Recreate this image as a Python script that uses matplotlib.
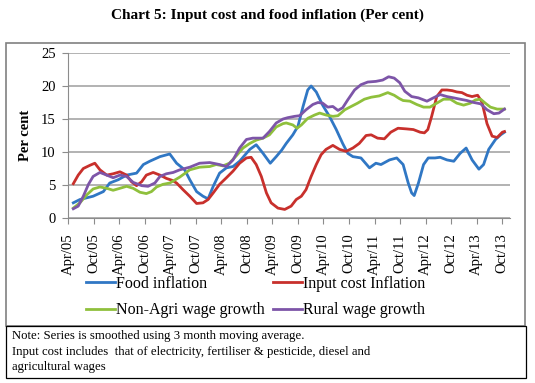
import matplotlib.pyplot as plt
from matplotlib.patches import Rectangle
from matplotlib.ticker import FixedLocator

plt.rcParams['font.family'] = ['Liberation Serif', 'DejaVu Serif']

# data (x = months since Apr/05)
tick_labels = ['Apr/05', 'Oct/05', 'Apr/06', 'Oct/06', 'Apr/07', 'Oct/07', 'Apr/08', 'Oct/08',
               'Apr/09', 'Oct/09', 'Apr/10', 'Oct/10', 'Apr/11', 'Oct/11', 'Apr/12', 'Oct/12',
               'Apr/13', 'Oct/13']

food_m = [1.25, 2.8, 5.9, 8.3, 9.8, 11.8, 13.75, 16.1, 17.7, 19.2, 21.6, 23.9, 25.5, 27.4, 28.6,
          30.2, 31.7, 32.9, 34.1, 35.6, 37.2, 38.75, 40.3, 42.7, 44.2, 45.8, 47.5, 48.9, 50.2,
          51.25, 52.8, 54.0, 55.2, 56.3, 57.1, 58.3, 59.8, 61.4, 63.0, 64.5, 65.7, 66.9, 68.8,
          70.8, 72.3, 73.5, 75.5, 77.2, 78.7, 79.9, 80.7, 81.3, 82.3, 83.5, 84.6, 86.2, 87.4,
          89.0, 90.6, 92.1, 93.5, 94.9, 96.5, 97.6, 98.8, 100.4, 101.6, 102.5]
food = [2.3, 2.8, 3.3, 4.0, 5.3, 5.8, 6.5, 6.8, 8.1, 8.6, 9.3, 9.7, 8.3, 7.3, 5.8,
        4.0, 3.3, 2.9, 4.8, 6.8, 7.6, 7.8, 8.6, 10.4, 11.1, 9.8, 8.3, 9.3, 10.3,
        11.3, 12.6, 13.9, 16.9, 19.4, 20.0, 19.1, 17.1, 15.4, 13.4, 11.3, 9.8, 9.3, 9.1,
        7.6, 8.3, 8.1, 8.8, 9.1, 8.1, 5.3, 3.8, 3.4, 5.3, 8.1, 9.1, 9.1, 9.2,
        8.8, 8.6, 9.8, 10.6, 8.8, 7.4, 8.1, 10.4, 11.9, 12.6, 13.0]

input_m = [1.25, 2.4, 3.6, 5.2, 6.3, 7.5, 9.1, 10.6, 12.2, 13.75, 14.9, 16.1, 17.3, 18.4, 20.0,
           21.6, 23.1, 24.5, 25.5, 27.0, 28.6, 30.2, 31.7, 32.9, 34.1, 35.6, 37.2, 38.75, 40.3,
           41.9, 43.0, 44.2, 45.4, 46.6, 47.7, 49.3, 50.9, 52.4, 53.6, 54.8, 55.9, 57.1, 58.3,
           59.45, 60.6, 62.2, 63.75, 65.3, 66.9, 68.4, 70.0, 71.2, 72.7, 74.3, 75.8, 77.5, 79.5,
           81.1, 82.7, 83.7, 84.5, 85.4, 86.6, 87.8, 89.0, 90.2, 91.3, 92.5, 93.7, 94.9, 96.2,
           97.2, 98.4, 99.6, 100.8, 102.0, 102.5]
input_cost = [5.2, 6.5, 7.5, 8.0, 8.3, 7.3, 6.5, 6.7, 7.0, 6.5, 5.5, 4.9, 5.5, 6.5, 6.9,
              6.5, 6.0, 5.7, 5.3, 4.3, 3.3, 2.2, 2.3, 2.8, 3.8, 5.1, 6.1, 7.1, 8.3,
              9.1, 9.2, 8.1, 6.3, 3.8, 2.3, 1.5, 1.3, 1.8, 2.8, 3.3, 4.3, 6.3, 8.1,
              9.6, 10.4, 11.0, 10.4, 10.1, 10.6, 11.3, 12.5, 12.6, 12.1, 12.0, 13.0, 13.6, 13.5,
              13.4, 13.0, 12.9, 13.4, 15.4, 18.4, 19.4, 19.4, 19.3, 19.1, 19.0, 18.6, 18.4, 18.6,
              17.6, 14.3, 12.4, 12.2, 13.0, 13.1]

nonagri_m = [1.25, 2.8, 4.4, 5.9, 7.5, 9.1, 10.6, 12.2, 13.75, 15.3, 16.9, 18.4, 19.6, 20.8, 22.3,
             23.9, 26.25, 28.6, 30.9, 33.3, 34.8, 36.4, 37.9, 39.5, 41.1, 42.7, 44.2, 45.8, 47.3,
             48.9, 50.5, 51.25, 52.8, 53.8, 54.8, 56.3, 57.9, 59.1, 60.6, 62.2, 63.4, 65.0, 66.5,
             68.0, 69.6, 71.2, 73.1, 75.1, 76.6, 77.8, 78.7, 80.3, 81.9, 83.5, 85.0, 86.6, 88.2,
             89.8, 91.3, 92.9, 94.5, 95.7, 96.9, 98.0, 99.2, 100.8, 102.5]
nonagri = [1.5, 2.3, 3.5, 4.4, 4.7, 4.5, 4.2, 4.5, 4.8, 4.5, 3.9, 3.7, 4.0, 4.7, 5.1,
           5.3, 6.2, 7.3, 7.7, 7.8, 8.1, 7.9, 8.3, 9.4, 10.6, 11.3, 11.8, 12.1, 12.6,
           13.8, 14.3, 14.4, 14.1, 13.6, 14.1, 15.1, 15.6, 15.9, 15.6, 15.4, 15.5, 16.4, 16.9,
           17.4, 18.0, 18.3, 18.5, 19.0, 18.6, 18.1, 17.8, 17.7, 17.2, 16.8, 16.8, 17.4, 18.0,
           18.0, 17.4, 17.1, 17.4, 17.9, 18.0, 17.4, 16.8, 16.5, 16.5]

rural_m = [1.25, 2.4, 3.6, 4.8, 5.9, 7.5, 9.1, 10.6, 12.2, 13.75, 15.3, 17.3, 18.8, 20.4, 21.6,
           23.1, 24.7, 26.25, 28.6, 30.9, 33.3, 35.6, 37.2, 38.75, 40.3, 41.9, 43.4, 45.8, 47.3,
           48.9, 50.5, 51.6, 53.2, 54.4, 55.9, 57.5, 58.7, 59.8, 61.0, 62.2, 63.4, 64.5, 65.7,
           67.3, 68.8, 70.4, 72.3, 73.9, 75.3, 76.6, 77.9, 79.1, 80.7, 82.3, 84.3, 85.8, 87.4,
           89.0, 90.6, 92.1, 93.7, 95.3, 96.9, 98.4, 100.0, 101.2, 102.5]
rural = [1.4, 1.8, 3.3, 5.1, 6.3, 6.9, 6.5, 6.1, 6.5, 6.3, 5.4, 4.9, 4.8, 5.3, 6.3,
         6.7, 6.9, 7.3, 7.7, 8.3, 8.4, 8.1, 7.8, 8.8, 10.6, 11.9, 12.1, 12.1, 13.1,
         14.4, 15.0, 15.2, 15.4, 15.5, 16.4, 17.2, 17.5, 17.4, 16.8, 16.9, 16.3, 16.7, 17.9,
         19.4, 20.2, 20.6, 20.7, 20.9, 21.4, 21.2, 20.5, 19.2, 18.4, 18.2, 17.7, 18.2, 18.7,
         18.4, 18.2, 18.0, 17.8, 17.5, 17.3, 16.4, 15.8, 15.9, 16.5]

fig = plt.figure(figsize=(5.35, 3.83), dpi=100)

# outer boxes
fig.patches.append(Rectangle((6 / 535, 1 - 326 / 383), 519 / 535, 283 / 383, transform=fig.transFigure,
                             facecolor='white', edgecolor='#808080', lw=1.2, zorder=-2))
fig.patches.append(Rectangle((6 / 535, 1 - 378 / 383), 520 / 535, 52 / 383, transform=fig.transFigure,
                             facecolor='white', edgecolor='black', lw=0.9, zorder=-2))

ax = fig.add_axes([68 / 535, 1 - 218 / 383, 442 / 535, 165 / 383])
ax.set_facecolor('none')

lw = 2.0
l_food, = ax.plot(food_m, food, color='#3077c4', lw=lw, solid_joinstyle='round')
l_input, = ax.plot(input_m, input_cost, color='#c8302c', lw=lw, solid_joinstyle='round')
l_nonagri, = ax.plot(nonagri_m, nonagri, color='#8fc03c', lw=lw, solid_joinstyle='round')
l_rural, = ax.plot(rural_m, rural, color='#7d55a8', lw=lw, solid_joinstyle='round')

ax.set_ylim(0, 25)
ax.set_xlim(0, 103.8)
ax.set_yticks([0, 5, 10, 15, 20, 25])
ax.xaxis.set_major_locator(FixedLocator([6 * i for i in range(len(tick_labels))]))
ax.set_xticklabels(tick_labels, rotation=90)
ax.grid(axis='y', color='#a6a6a6', lw=1.2)
ax.set_axisbelow(True)
for s in ['top', 'right']:
    ax.spines[s].set_visible(False)
for s in ['left', 'bottom']:
    ax.spines[s].set_color('#8c8c8c')
ax.tick_params(axis='both', colors='#8c8c8c', labelcolor='black', labelsize=10.5, length=4)
ax.tick_params(axis='y', pad=5)
ax.tick_params(axis='x', pad=7)
ax.set_ylabel('Per cent', fontsize=10.5, fontweight='bold', labelpad=6)

# legend columns: Food / Non-Agri, then Input / Rural
fig.legend([l_food, l_nonagri, l_input, l_rural],
           ['Food inflation', 'Non-Agri wage growth', 'Input cost Inflation', 'Rural wage growth'],
           loc='upper left', bbox_to_anchor=(86 / 535, 1 - 276 / 383), ncol=2, frameon=False,
           fontsize=11.5, handlelength=1.8, handletextpad=0.1, columnspacing=0.5, labelspacing=0.65,
           borderaxespad=0, borderpad=0)

fig.text(0.5, 1 - 15 / 383, 'Chart 5: Input cost and food inflation (Per cent)', ha='center', va='center',
         fontsize=11, fontweight='bold')

note = ('Note: Series is smoothed using 3 month moving average.\n'
        'Input cost includes  that of electricity, fertiliser & pesticide, diesel and\n'
        'agricultural wages')
fig.text(12 / 535, 1 - 330 / 383, note, ha='left', va='top', fontsize=9.2, linespacing=1.4)

fig.savefig('out.png', dpi=100)
